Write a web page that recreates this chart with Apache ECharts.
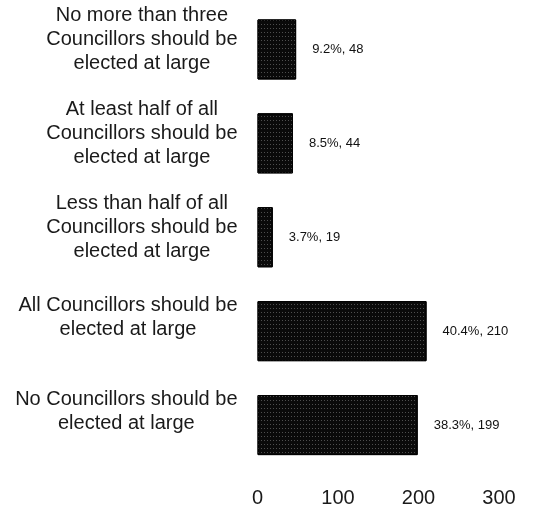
<!DOCTYPE html>
<html>
<head>
<meta charset="utf-8">
<script src="https://cdn.jsdelivr.net/npm/echarts@6/dist/echarts.min.js"></script>
<style>
html,body{margin:0;padding:0;background:#fff;}
#chart{width:539px;height:512px;}
</style>
</head>
<body>
<div id="chart"></div>
<script>
var categories = [
  'No more than three\nCouncillors should be\nelected at large',
  'At least half of all\nCouncillors should be\nelected at large',
  'Less than half of all\nCouncillors should be\nelected at large',
  'All Councillors should be\nelected at large',
  'No Councillors should be\nelected at large'
];
var counts = [48, 44, 19, 210, 199];
var percents = [9.2, 8.5, 3.7, 40.4, 38.3];
var xTicks = [0, 100, 200, 300];

var font = '"Liberation Sans", Arial, Helvetica, sans-serif';

var yData = categories.map(function (c) {
  var n = c.split('\n').length;
  return { value: c, textStyle: { padding: [0, 0, n === 3 ? 20 : 27, 0] } };
});

var chart = echarts.init(document.getElementById('chart'), null, { renderer: 'canvas' });
chart.setOption({
  backgroundColor: '#ffffff',
  animation: false,
  grid: { left: 257.5, right: 40, top: 2.5, bottom: 40, containLabel: false },
  xAxis: {
    type: 'value',
    min: xTicks[0],
    max: xTicks[xTicks.length - 1],
    interval: xTicks[1] - xTicks[0],
    axisLine: { show: false },
    axisTick: { show: false },
    splitLine: { show: false },
    axisLabel: { color: '#1a1a1a', fontSize: 20, fontFamily: font, margin: 16 }
  },
  yAxis: {
    type: 'category',
    inverse: true,
    data: yData,
    axisLine: { show: false },
    axisTick: { show: false },
    splitLine: { show: false },
    axisLabel: {
      color: '#1a1a1a',
      fontSize: 20,
      fontFamily: font,
      margin: 20,
      align: 'right',
      lineHeight: 24,
      formatter: function (v) {
        return v.split('\n').map(function (l) { return '{c|' + l + '}'; }).join('\n');
      },
      rich: {
        c: { align: 'center', fontSize: 20, fontFamily: font, color: '#1a1a1a', lineHeight: 24 }
      }
    }
  },
  series: [{
    type: 'bar',
    data: counts,
    barCategoryGap: '36%',
    itemStyle: {
      color: '#0a0a0a',
      borderColor: '#000',
      borderWidth: 1,
      decal: {
        symbol: 'rect',
        symbolSize: 1,
        color: 'rgba(255,255,255,0.28)',
        dashArrayX: [1, 2],
        dashArrayY: [1, 3],
        rotation: 0
      }
    },
    label: {
      show: true,
      position: 'right',
      distance: 16,
      color: '#111',
      fontSize: 13,
      fontFamily: font,
      formatter: function (p) {
        return percents[p.dataIndex] + '%, ' + p.value;
      }
    }
  }]
});
</script>
</body>
</html>
